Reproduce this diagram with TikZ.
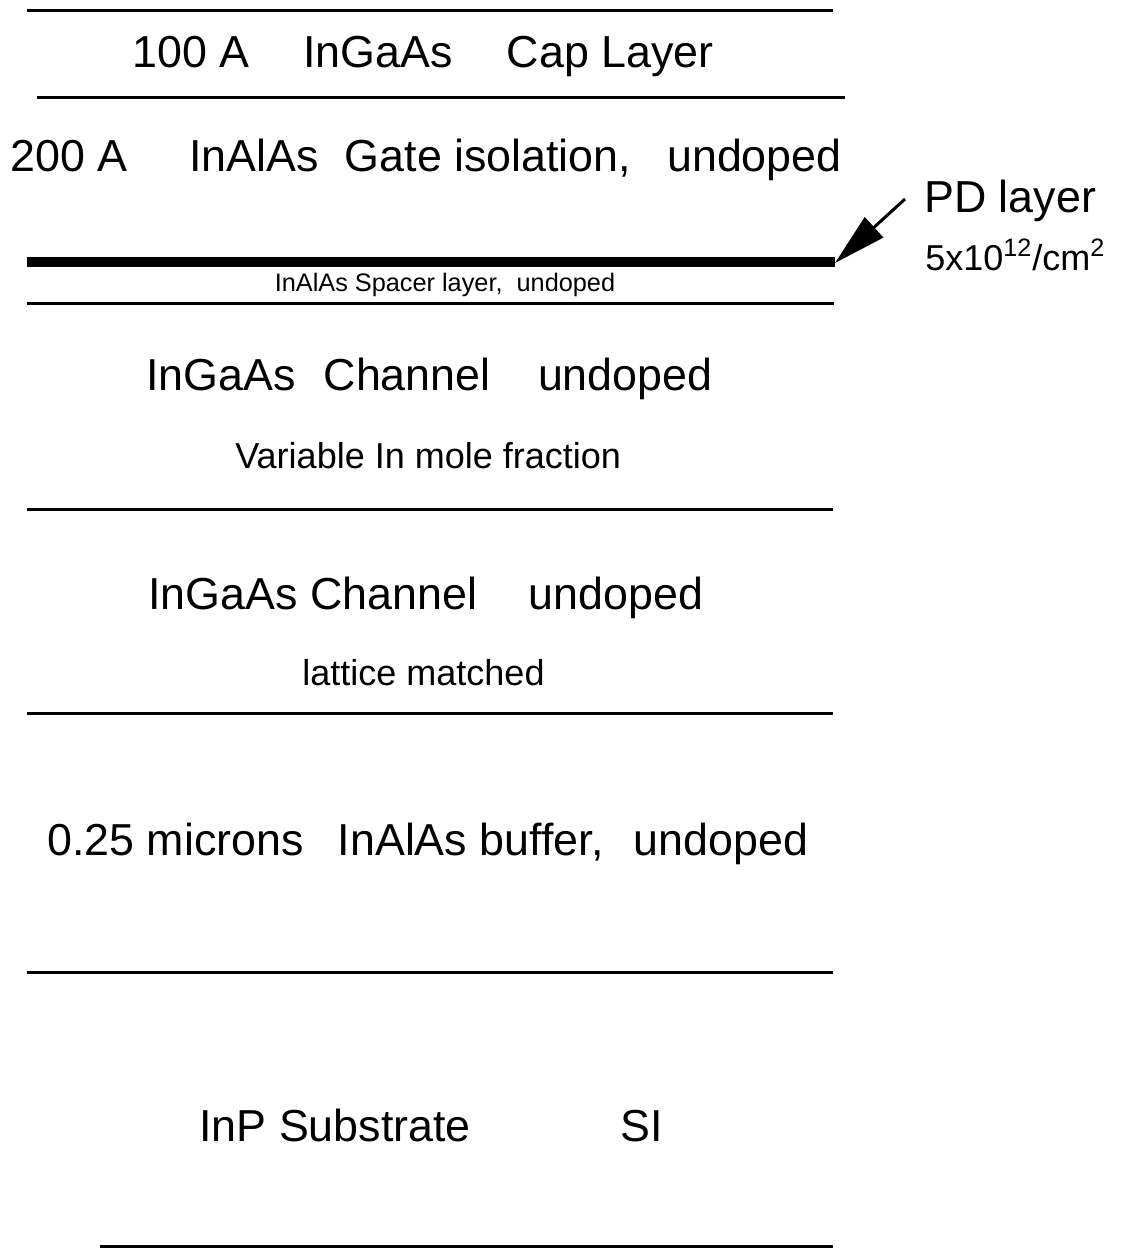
\documentclass[tikz,border=0pt]{standalone}
\usepackage{fontspec}
\setmainfont{Liberation Sans}
\usetikzlibrary{arrows.meta}
\begin{document}
\begin{tikzpicture}[x=0.02cm,y=-0.02cm,
  layerline/.style={line width=0.06cm,black},
  pdline/.style={line width=0.2cm,black},
  bigtxt/.style={anchor=base west,inner sep=0pt,font=\fontsize{25.5}{30}\selectfont},
  medtxt/.style={anchor=base west,inner sep=0pt,font=\fontsize{20.5}{24}\selectfont},
  smalltxt/.style={anchor=base,inner sep=0pt,font=\fontsize{14.4}{17}\selectfont},
  pdarrow/.style={line width=0.06cm,-{Triangle[length=1.06cm,width=0.54cm]}}]
\useasboundingbox (0,0) rectangle (1121,1249);
% layer boundaries
\draw[layerline] (27,10) -- (833,10);
\draw[layerline] (37,97) -- (845,97);
\draw[pdline] (27,262) -- (835,262);
\draw[layerline] (27,303) -- (834,303);
\draw[layerline] (27,509) -- (833,509);
\draw[layerline] (27,713) -- (833,713);
\draw[layerline] (27,972) -- (833,972);
\draw[layerline] (100,1246) -- (833,1246);
% layer texts
\node[bigtxt] (cap) at (132,67) {100 A\hspace{1.08cm}InGaAs\hspace{1.08cm}Cap Layer};
\node[bigtxt] (gate) at (10,171) {200 A\hspace{1.24cm}InAlAs\hspace{0.52cm}Gate isolation,\hspace{0.72cm}undoped};
\node[smalltxt] (spacer) at (445,291) {InAlAs Spacer layer,\ \ undoped};
\node[bigtxt] (ch1) at (146,390) {InGaAs\hspace{0.56cm}Channel\hspace{0.95cm}undoped};
\node[medtxt] (ch1b) at (235,468) {Variable In mole fraction};
\node[bigtxt] (ch2) at (148,609) {InGaAs Channel\hspace{1.03cm}undoped};
\node[medtxt] (ch2b) at (302,685) {lattice matched};
\node[bigtxt] (buf) at (47,855) {0.25 microns\hspace{0.68cm}InAlAs buffer,\hspace{0.61cm}undoped};
\node[bigtxt] (sub) at (199,1141) {InP Substrate\hspace{3.0cm}SI};
% PD layer label and arrow
\node[bigtxt] (pd) at (924,212) {PD layer};
\node[medtxt] (pddose) at (925,270) {5x10\textsuperscript{12}/cm\textsuperscript{2}};
\coordinate (pdtail) at (905,199);
\coordinate (pdtip) at (835,263);
\draw[pdarrow] (pdtail) -- (pdtip);
\end{tikzpicture}
\end{document}
